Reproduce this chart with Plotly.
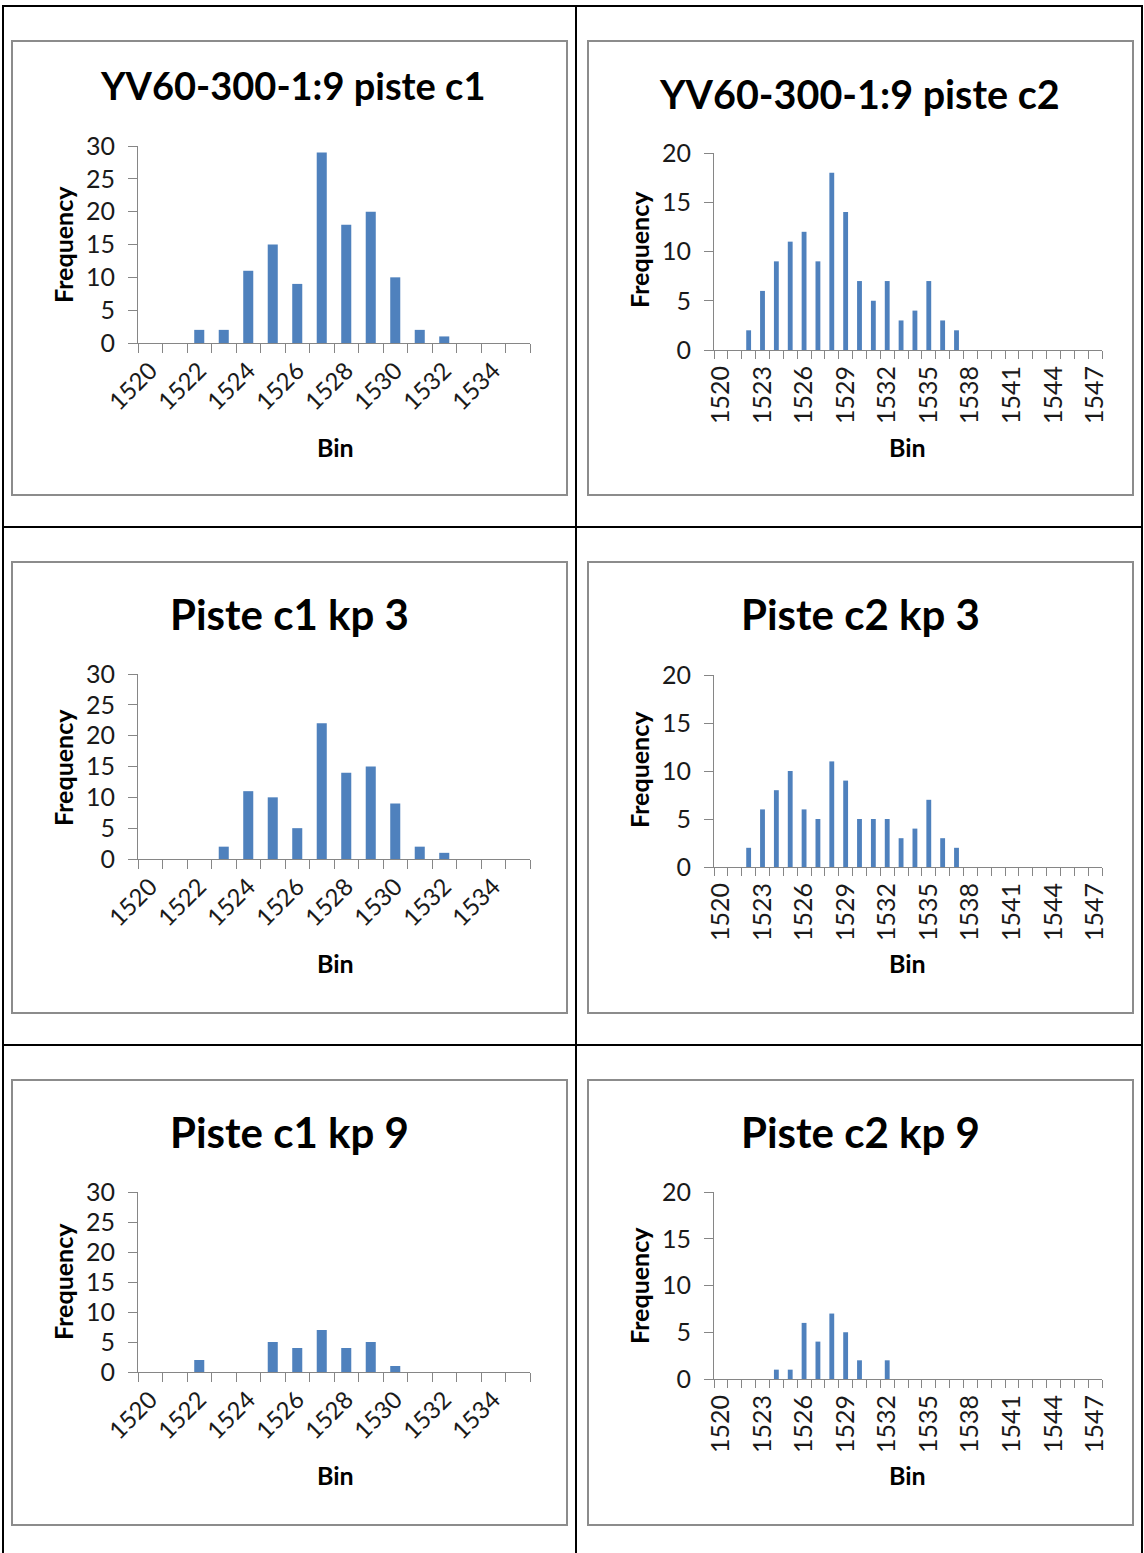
import plotly.graph_objects as go

W, H = 1144, 1553

# ---------------- data ----------------
bins_c1 = [str(b) for b in range(1520, 1536)]
bins_c2 = [str(b) for b in range(1520, 1548)]

freq_c1 = [0, 0, 2, 2, 11, 15, 9, 29, 18, 20, 10, 2, 1, 0, 0, 0]
freq_c1_kp3 = [0, 0, 0, 2, 11, 10, 5, 22, 14, 15, 9, 2, 1, 0, 0, 0]
freq_c1_kp9 = [0, 0, 2, 0, 0, 5, 4, 7, 4, 5, 1, 0, 0, 0, 0, 0]

freq_c2 = [0, 0, 2, 6, 9, 11, 12, 9, 18, 14, 7, 5, 7, 3, 4, 7, 3, 2,
           0, 0, 0, 0, 0, 0, 0, 0, 0, 0]
freq_c2_kp3 = [0, 0, 2, 6, 8, 10, 6, 5, 11, 9, 5, 5, 5, 3, 4, 7, 3, 2,
               0, 0, 0, 0, 0, 0, 0, 0, 0, 0]
freq_c2_kp9 = [0, 0, 0, 0, 1, 1, 6, 4, 7, 5, 2, 0, 2, 0, 0, 0, 0, 0,
               0, 0, 0, 0, 0, 0, 0, 0, 0, 0]

titles = ["YV60-300-1:9 piste c1", "YV60-300-1:9 piste c2",
          "Piste c1 kp 3", "Piste c2 kp 3",
          "Piste c1 kp 9", "Piste c2 kp 9"]
x_title = "Bin"
y_title = "Frequency"

# ---------------- layout geometry (pixels) ----------------
def px(x):
    return x / W

def py(y):
    return 1 - y / H

FONT = "Lato, 'Open Sans', sans-serif"
BAR = "#4F81BD"
AX = "#868686"

# panel specs: (data, bins, ymax, label step, x0, x1, ytop, yzero, box, title_xy, title size, ytitle_xy, xtitle_xy, angle, barwidth)
panels = [
    (freq_c1, bins_c1, 30, 2, 138, 530, 146, 343, (12, 41, 567, 495), (292, 85), 38, (63, 245), (335, 447), -45, 0.41),
    (freq_c2, bins_c2, 20, 3, 714, 1102, 153, 350, (588, 41, 1133, 495), (859, 93), 39.5, (639, 250), (907, 447), -90, 0.35),
    (freq_c1_kp3, bins_c1, 30, 2, 138, 530, 674, 859, (12, 562, 567, 1013), (289, 614), 42, (63, 768), (335, 963), -45, 0.41),
    (freq_c2_kp3, bins_c2, 20, 3, 714, 1102, 675, 867, (588, 562, 1133, 1013), (860, 614), 42, (639, 770), (907, 963), -90, 0.35),
    (freq_c1_kp9, bins_c1, 30, 2, 138, 530, 1192, 1372, (12, 1080, 567, 1525), (289, 1132), 42, (63, 1282), (335, 1475), -45, 0.41),
    (freq_c2_kp9, bins_c2, 20, 3, 714, 1102, 1192, 1379, (588, 1080, 1133, 1525), (860, 1132), 42, (639, 1286), (907, 1475), -90, 0.35),
]

fig = go.Figure()
layout = dict(
    width=W, height=H,
    margin=dict(l=0, r=0, t=0, b=0, pad=0),
    autosize=False,
    paper_bgcolor="white", plot_bgcolor="rgba(0,0,0,0)",
    showlegend=False,
    shapes=[], annotations=[],
)

for i, (vals, bins, ymax, step, x0, x1, ytop, yzero, box, tpos, tsize, ytpos, xtpos, ang, bw) in enumerate(panels):
    n = i + 1
    xa = "x" if n == 1 else f"x{n}"
    ya = "y" if n == 1 else f"y{n}"
    fig.add_trace(go.Bar(x=bins, y=vals, xaxis=xa, yaxis=ya,
                         marker=dict(color=BAR, line=dict(width=0)),
                         width=bw, hoverinfo="x+y"))
    ticktext = [b if (k % step == 0) else "" for k, b in enumerate(bins)]
    layout["xaxis" if n == 1 else f"xaxis{n}"] = dict(
        domain=[px(x0), px(x1)], anchor=ya, automargin=False,
        type="category", categoryorder="array", categoryarray=bins,
        tickmode="array", tickvals=bins, ticktext=ticktext,
        tickson="boundaries", ticks="outside", ticklen=9 if step == 2 else 8,
        tickcolor=AX, tickwidth=1,
        showline=True, linecolor=AX, linewidth=1,
        showgrid=False, zeroline=False,
        tickangle=ang,
        tickfont=dict(family=FONT, size=24 if step == 2 else 25, color="#1a1a1a"),
        ticklabelstandoff=3 if step == 2 else 5,
        fixedrange=True,
    )
    layout["yaxis" if n == 1 else f"yaxis{n}"] = dict(
        domain=[py(yzero), py(ytop)], anchor=xa, automargin=False,
        range=[0, ymax], dtick=5, tick0=0,
        ticks="outside", ticklen=9, tickcolor=AX, tickwidth=1,
        showline=True, linecolor=AX, linewidth=1,
        showgrid=False, zeroline=False,
        tickfont=dict(family=FONT, size=25, color="#1a1a1a"),
        ticklabelstandoff=8,
        fixedrange=True,
    )
    # chart box
    bx0, by0, bx1, by1 = box
    layout["shapes"].append(dict(type="rect", xref="paper", yref="paper",
                                 x0=px(bx0), x1=px(bx1), y0=py(by1), y1=py(by0),
                                 line=dict(color="#8c8c8c", width=2), fillcolor="rgba(0,0,0,0)",
                                 layer="below"))
    # title
    layout["annotations"].append(dict(text=f"<b>{titles[i]}</b>", xref="paper", yref="paper",
                                      x=px(tpos[0]), y=py(tpos[1]), xanchor="center", yanchor="middle",
                                      showarrow=False, font=dict(family=FONT, size=tsize, color="black")))
    layout["annotations"].append(dict(text=f"<b>{y_title}</b>", xref="paper", yref="paper",
                                      x=px(ytpos[0]), y=py(ytpos[1]), xanchor="center", yanchor="middle",
                                      textangle=-90, showarrow=False,
                                      font=dict(family=FONT, size=25, color="black")))
    layout["annotations"].append(dict(text=f"<b>{x_title}</b>", xref="paper", yref="paper",
                                      x=px(xtpos[0]), y=py(xtpos[1]), xanchor="center", yanchor="middle",
                                      showarrow=False, font=dict(family=FONT, size=25, color="black")))

# table grid lines
def hline(y, x0=3, x1=1142):
    return dict(type="line", xref="paper", yref="paper", x0=px(x0), x1=px(x1), y0=py(y), y1=py(y),
                line=dict(color="black", width=2))

def vline(x, y0=5, y1=1553):
    return dict(type="line", xref="paper", yref="paper", x0=px(x), x1=px(x), y0=py(y0), y1=py(y1),
                line=dict(color="black", width=2))

layout["shapes"] += [hline(6), hline(527), hline(1045), vline(3), vline(576), vline(1142)]

fig.update_layout(**layout)
fig.write_html("out.html")
